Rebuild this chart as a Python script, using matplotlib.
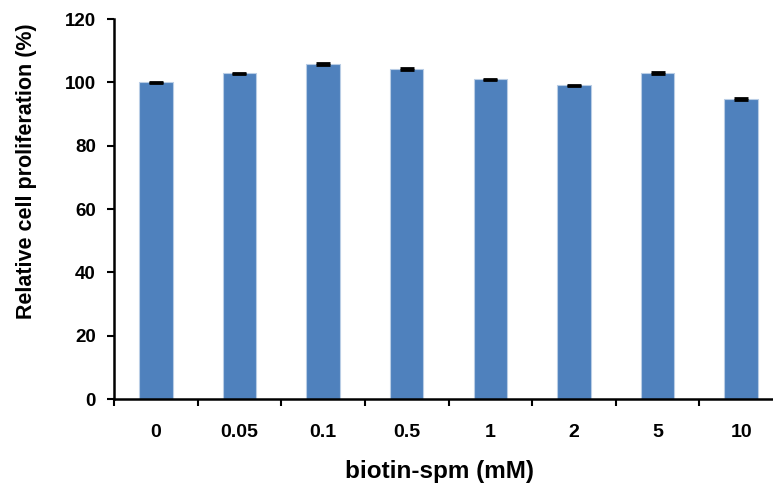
import matplotlib.pyplot as plt

# biotin-spm concentrations (mM) and relative proliferation (%)
doses = ["0", "0.05", "0.1", "0.5", "1", "2", "5", "10"]
prolif = [100.0, 102.8, 105.8, 104.1, 100.9, 99.0, 102.9, 94.7]
err = [0.2, 0.3, 0.3, 0.3, 0.2, 0.2, 0.3, 0.2]

plt.rcParams['font.family'] = ['Liberation Sans', 'DejaVu Sans']
plt.rcParams['font.weight'] = 'bold'

fig = plt.figure(figsize=(7.73, 4.86), dpi=100)
# axes runs past the right edge, like the cropped original
ax = fig.add_axes([114/773, 87/486, 669/773, 380/486])

x = range(len(doses))
ax.bar(x, prolif, width=0.4, color="#4F81BD", edgecolor="#B9CDE5", linewidth=0.8,
       yerr=err, error_kw=dict(ecolor="black", elinewidth=1.5, capsize=5, capthick=2))

ax.set_xlim(-0.5, len(doses) - 0.5)
ax.set_ylim(0, 120)
ax.set_yticks(range(0, 121, 20))

# category labels centred, tick marks between categories
ax.set_xticks([i - 0.5 for i in range(len(doses) + 1)])
ax.set_xticklabels([])
ax.set_xticks(list(x), minor=True)
ax.set_xticklabels(doses, minor=True)
ax.tick_params(axis='x', which='minor', length=0, pad=18, labelsize=14)
ax.tick_params(axis='x', which='major', length=5, width=1.5, direction='out')
ax.tick_params(axis='y', length=5, width=1.5, direction='out', pad=8, labelsize=13.5)

for s in ['top', 'right']:
    ax.spines[s].set_visible(False)
for s in ['left', 'bottom']:
    ax.spines[s].set_linewidth(1.8)

ax.set_ylabel("Relative cell proliferation (%)", fontsize=15.5, fontweight='bold')
ax.yaxis.set_label_coords(-0.115, 0.60)
ax.set_xlabel("biotin-spm (mM)", fontsize=17.5, fontweight='bold')
ax.xaxis.set_label_coords(0.486, -0.16)

fig.savefig("out.png", dpi=100)
